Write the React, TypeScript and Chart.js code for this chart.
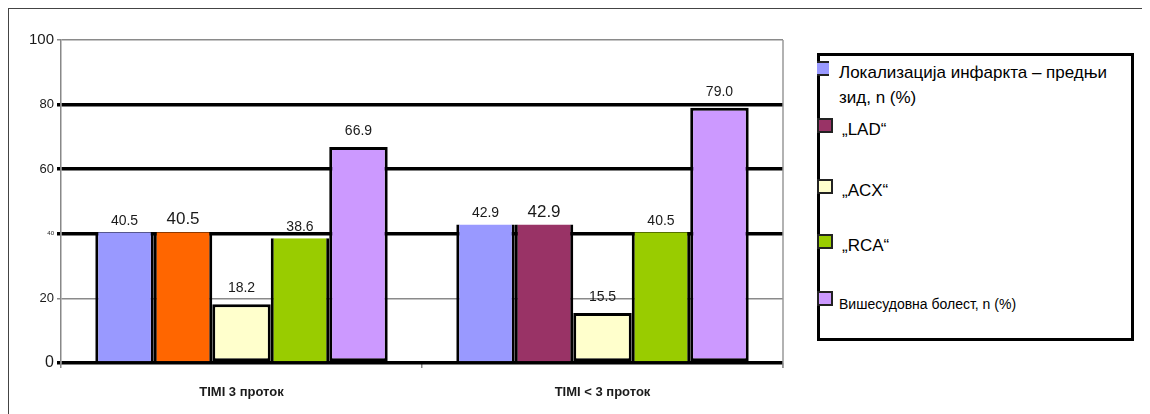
import React, { useEffect, useRef } from "react";
import { Chart, registerables } from "chart.js";

Chart.register(...registerables);

const categories = ["TIMI 3 проток", "TIMI < 3 проток"];
const seriesNames = [
  "Локализација инфаркта – предњи зид, n (%)",
  "„LAD“",
  "„ACX“",
  "„RCA“",
  "Вишесудовна болест, n (%)",
];
const anteriorWall = [40.5, 42.9];
const lad = [40.5, 42.9];
const acx = [18.2, 15.5];
const rca = [38.6, 40.5];
const multiVessel = [66.9, 79.0];
const yTicks = [0, 20, 40, 60, 80, 100];

const FONT = "'Liberation Sans', Arial, sans-serif";

const labelPlugin = {
  id: "valueLabels",
  afterDatasetsDraw(chart: any) {
    const ctx = chart.ctx;
    ctx.save();
    ctx.fillStyle = "#1a1a1a";
    ctx.textAlign = "center";
    ctx.textBaseline = "bottom";
    chart.data.datasets.forEach((ds: any, di: number) => {
      const meta = chart.getDatasetMeta(di);
      const size = di === 1 ? 17 : 14;
      const framedTop = typeof ds.borderWidth === "number";
      ctx.font = `${size}px ${FONT}`;
      meta.data.forEach((el: any, i: number) => {
        const v = ds.data[i];
        ctx.fillText(v.toFixed(1), el.x, el.y - (framedTop ? 9 : 4));
      });
    });
    ctx.restore();
  },
};

const framePlugin = {
  id: "plotFrame",
  afterDraw(chart: any) {
    const { ctx, chartArea } = chart;
    ctx.save();
    ctx.strokeStyle = "#999";
    ctx.lineWidth = 1.5;
    ctx.beginPath();
    ctx.moveTo(chartArea.right, chartArea.top);
    ctx.lineTo(chartArea.right, chartArea.bottom + 5);
    ctx.stroke();
    ctx.restore();
  },
};

function Legend() {
  const colors = ["#9999FF", "#993366", "#FFFFCC", "#99CC00", "#CC99FF"];
  const items = [
    { top: 4, mTop: 5, size: 17, text: ["Локализација инфаркта – предњи", "зид, n (%)"] },
    { top: 64, mTop: 62, size: 17, text: [seriesNames[1]] },
    { top: 125, mTop: 123, size: 17, text: [seriesNames[2]] },
    { top: 180, mTop: 178, size: 17, text: [seriesNames[3]] },
    { top: 238, mTop: 235, size: 14, text: [seriesNames[4]] },
  ];
  return (
    <div
      style={{
        position: "absolute",
        left: 808,
        top: 44,
        width: 311,
        height: 282,
        border: "3px solid #000",
        background: "#fff",
        fontFamily: FONT,
        color: "#000",
      }}
    >
      {items.map((it, i) => (
        <React.Fragment key={i}>
          <div
            style={{
              position: "absolute",
              left: -3,
              top: it.mTop,
              width: 12,
              height: 11,
              background: colors[i],
              borderStyle: "solid",
              borderColor: "#222",
              borderTopWidth: 2,
              borderBottomWidth: 2,
              borderLeftWidth: i === 0 ? 0 : 2,
              borderRightWidth: i === 0 ? 0 : 2,
            }}
          />
          <div
            style={{
              position: "absolute",
              left: i === 0 || i === 4 ? 19 : 22,
              top: it.top,
              fontSize: it.size,
              lineHeight: i === 0 ? "25px" : "20px",
              whiteSpace: "nowrap",
            }}
          >
            {it.text.map((t, k) => (
              <div key={k}>{t}</div>
            ))}
          </div>
        </React.Fragment>
      ))}
    </div>
  );
}

export default function App() {
  const ref = useRef<HTMLCanvasElement>(null);
  useEffect(() => {
    document.body.style.overflow = "hidden";
    const cfg: any = {
      type: "bar",
      data: {
        labels: categories,
        datasets: [
          {
            label: seriesNames[0],
            data: anteriorWall,
            backgroundColor: "#9999FF",
            borderColor: "#000",
            borderWidth: { left: 3, right: 3, top: 0, bottom: 0 },
            borderSkipped: false,
          },
          {
            label: seriesNames[1],
            data: lad,
            backgroundColor: ["#FF6600", "#993366"],
            borderColor: "#000",
            borderWidth: { left: 3, right: 3, top: 0, bottom: 0 },
            borderSkipped: false,
          },
          {
            label: seriesNames[2],
            data: acx,
            backgroundColor: "#FFFFCC",
            borderColor: "#000",
            borderWidth: 3,
            borderSkipped: false,
          },
          {
            label: seriesNames[3],
            data: rca,
            backgroundColor: "#99CC00",
            borderColor: "#000",
            borderWidth: { left: 3, right: 3, top: 0, bottom: 0 },
            borderSkipped: false,
          },
          {
            label: seriesNames[4],
            data: multiVessel,
            backgroundColor: "#CC99FF",
            borderColor: "#000",
            borderWidth: 3,
            borderSkipped: false,
          },
        ],
      },
      options: {
        animation: false,
        responsive: false,
        layout: { padding: { top: 31, right: 368, left: 0, bottom: 0 } },
        datasets: { bar: { categoryPercentage: 0.81, barPercentage: 1 } },
        plugins: { legend: { display: false }, tooltip: { enabled: false } },
        scales: {
          x: {
            grid: {
              offset: true,
              drawOnChartArea: false,
              tickLength: 5,
              color: "#888",
              lineWidth: 1.5,
            },
            border: { display: false },
            ticks: {
              padding: 17,
              color: "#1a1a1a",
              font: { family: FONT, size: 13, weight: "bold" },
            },
            afterFit: (s: any) => {
              s.height = 52;
            },
          },
          y: {
            min: 0,
            max: 100,
            afterBuildTicks: (s: any) => {
              s.ticks = yTicks.map((v) => ({ value: v }));
            },
            grid: {
              tickLength: 4,
              color: (c: any) => {
                const v = c.tick ? c.tick.value : 0;
                return v === 20 || v === 100 ? "#8a8a8a" : "#000";
              },
              lineWidth: (c: any) => {
                const v = c.tick ? c.tick.value : 0;
                return v === 20 || v === 100 ? 1.5 : 3.5;
              },
            },
            border: { color: "#888", width: 1.5 },
            ticks: {
              padding: 3,
              color: "#1a1a1a",
              font: (c: any) => {
                const v = c.tick ? c.tick.value : 0;
                let size = 13;
                if (v === 40) size = 6;
                if (v === 0) size = 16;
                if (v === 100) size = 15;
                return { family: FONT, size };
              },
            },
            afterFit: (s: any) => {
              s.width = 52;
            },
          },
        },
      },
      plugins: [labelPlugin, framePlugin],
    };
    const chart = new Chart(ref.current as HTMLCanvasElement, cfg);
    return () => chart.destroy();
  }, []);

  return (
    <div
      style={{
        position: "relative",
        width: 1141,
        height: 405,
        borderLeft: "1.5px solid #444",
        borderTop: "1.5px solid #444",
        overflow: "hidden",
      }}
    >
      <canvas
        ref={ref}
        width={1142}
        height={406}
        style={{ position: "absolute", left: 0, top: 0, width: 1142, height: 406 }}
      />
      <Legend />
    </div>
  );
}
